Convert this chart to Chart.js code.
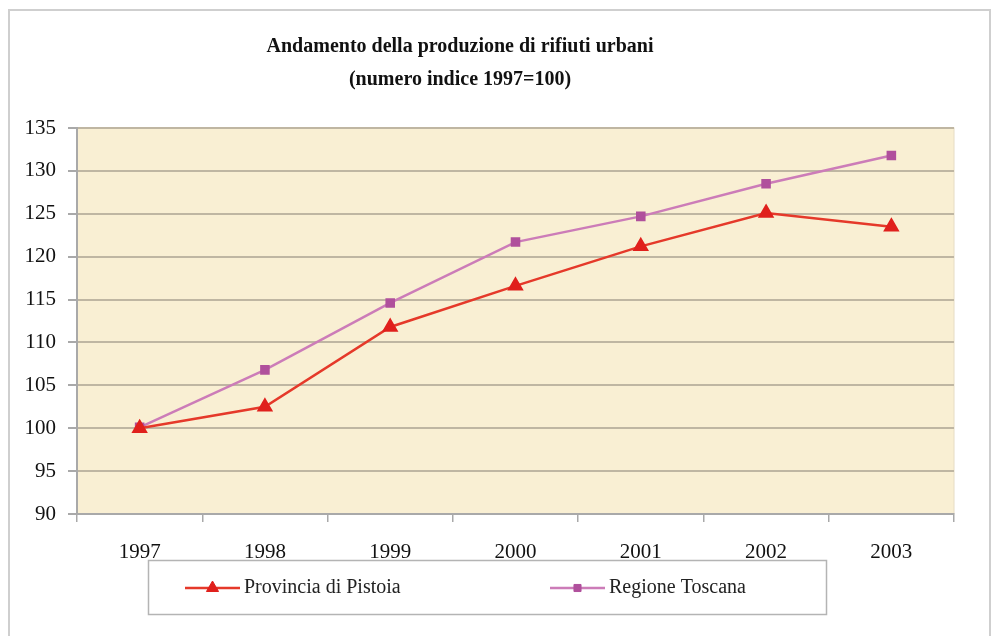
<!DOCTYPE html>
<html lang="it">
<head>
<meta charset="UTF-8">
<title>Andamento della produzione di rifiuti urbani</title>
<script src="https://cdn.jsdelivr.net/npm/chart.js"></script>
<style>
  html, body { margin: 0; padding: 0; background: #fff; }
  #wrap { width: 999px; height: 636px; position: relative; }
</style>
</head>
<body>
<div id="wrap"><canvas id="rifiutiChart" width="999" height="636"></canvas></div>
<script>
// dati (numero indice 1997=100)
const anni = ['1997', '1998', '1999', '2000', '2001', '2002', '2003'];
const pistoia = [100, 102.5, 111.8, 116.6, 121.2, 125.1, 123.5];
const toscana = [100.1, 106.8, 114.6, 121.7, 124.7, 128.5, 131.8];
const titolo = ['Andamento della produzione di rifiuti urbani', '(numero indice 1997=100)'];
const nomiSerie = ['Provincia di Pistoia', 'Regione Toscana'];

const rossoLinea = '#e5392a';
const rossoPunto = '#e0201c';
const violaLinea = '#cc7cb8';
const violaPunto = '#b0509c';
const serif = '"Liberation Serif", "Times New Roman", serif';

// sfondo, cornice esterna, titolo e legenda disegnati a mano
const decorazioni = {
  id: 'decorazioni',
  beforeDraw(chart) {
    const ctx = chart.ctx;
    const a = chart.chartArea;
    ctx.save();
    ctx.fillStyle = '#fff';
    ctx.fillRect(0, 0, chart.width, chart.height);
    ctx.strokeStyle = '#cfcfcf';
    ctx.lineWidth = 2;
    ctx.strokeRect(9, 10, chart.width - 18, chart.height + 10);
    ctx.fillStyle = '#f9efd3';
    ctx.fillRect(a.left, a.top, a.right - a.left, a.bottom - a.top);
    ctx.strokeStyle = '#e6dcc4';
    ctx.lineWidth = 1;
    ctx.strokeRect(a.left, a.top, a.right - a.left, a.bottom - a.top);

    ctx.fillStyle = '#111';
    ctx.font = 'bold 20px ' + serif;
    ctx.textAlign = 'center';
    ctx.textBaseline = 'middle';
    ctx.fillText(titolo[0], 460, 47);
    ctx.fillText(titolo[1], 460, 80);
    ctx.restore();
  },
  afterDraw(chart) {
    const ctx = chart.ctx;
    ctx.save();
    ctx.strokeStyle = '#b4b4b4';
    ctx.lineWidth = 1.5;
    ctx.strokeRect(148.5, 560.5, 678, 54);
    const voci = [
      { x: 185, linea: rossoLinea, punto: rossoPunto, stile: 'triangle', r: 7, testo: nomiSerie[0] },
      { x: 550, linea: violaLinea, punto: violaPunto, stile: 'rect', r: 5, testo: nomiSerie[1] }
    ];
    voci.forEach(v => {
      ctx.strokeStyle = v.linea;
      ctx.lineWidth = 2.5;
      ctx.beginPath();
      ctx.moveTo(v.x, 588);
      ctx.lineTo(v.x + 55, 588);
      ctx.stroke();
      ctx.fillStyle = v.punto;
      ctx.strokeStyle = v.punto;
      ctx.lineWidth = 1;
      Chart.helpers.drawPoint(ctx, { pointStyle: v.stile, radius: v.r, borderWidth: 1 }, v.x + 27.5, 588);
      ctx.fillStyle = '#222';
      ctx.font = '20px ' + serif;
      ctx.textAlign = 'left';
      ctx.textBaseline = 'middle';
      ctx.fillText(v.testo, v.x + 59, 588);
    });
    ctx.restore();
  }
};

new Chart(document.getElementById('rifiutiChart'), {
  type: 'line',
  data: {
    labels: anni,
    datasets: [{
      label: nomiSerie[0],
      data: pistoia,
      borderColor: rossoLinea,
      borderWidth: 2.5,
      pointStyle: 'triangle',
      pointRadius: 7,
      pointBackgroundColor: rossoPunto,
      pointBorderColor: rossoPunto,
      tension: 0
    }, {
      label: nomiSerie[1],
      data: toscana,
      borderColor: violaLinea,
      borderWidth: 2.5,
      pointStyle: 'rect',
      pointRadius: 5,
      pointBackgroundColor: violaPunto,
      pointBorderColor: violaPunto,
      tension: 0
    }]
  },
  options: {
    responsive: false,
    animation: false,
    layout: { padding: { top: 128, right: 45, bottom: 72, left: 0 } },
    plugins: {
      legend: { display: false },
      title: { display: false },
      tooltip: { enabled: false }
    },
    scales: {
      x: {
        offset: true,
        afterFit(scale) { scale.height = 50; },
        grid: {
          offset: true,
          drawOnChartArea: false,
          tickLength: 8,
          tickColor: '#a9a9a9',
          lineWidth: 1.5
        },
        border: { color: '#a9a9a9', width: 2 },
        ticks: {
          color: '#111',
          padding: 18,
          font: { family: serif, size: 21 }
        }
      },
      y: {
        min: 90,
        max: 135,
        afterFit(scale) { scale.width = 77; },
        grid: {
          color: '#bfb6a2',
          lineWidth: 2,
          tickLength: 9,
          tickColor: '#a9a9a9'
        },
        border: { color: '#a9a9a9', width: 2 },
        ticks: {
          stepSize: 5,
          color: '#111',
          padding: 12,
          font: { family: serif, size: 21 }
        }
      }
    }
  },
  plugins: [decorazioni]
});
</script>
</body>
</html>
